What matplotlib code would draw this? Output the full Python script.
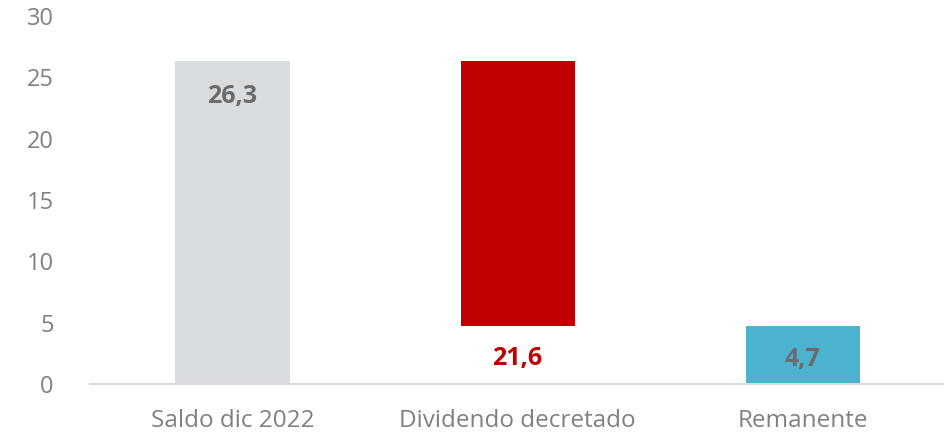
"""Waterfall: saldo, dividendo decretado y remanente."""

import matplotlib
matplotlib.use("Agg")
import matplotlib.pyplot as plt

categories = ["Saldo dic 2022", "Dividendo decretado", "Remanente"]
values = [26.3, 21.6, 4.7]
bottoms = [0, 4.7, 0]
labels = ["26,3", "21,6", "4,7"]
y_ticks = [0, 5, 10, 15, 20, 25, 30]

colors = ["#D9DCDF", "#C00000", "#4BB2D0"]
label_colors = ["#6B6B6B", "#C00000", "#6B6B6B"]

plt.rcParams["font.family"] = ["Open Sans", "DejaVu Sans"]

fig = plt.figure(figsize=(9.45, 4.33), dpi=100)
ax = fig.add_axes([0.0952, 0.113, 0.905, 0.85])

x = range(len(categories))
ax.bar(x, values, bottom=bottoms, width=0.4, color=colors)

# value labels: inside top for first, below for the floating bar, inside for the last
ax.annotate(labels[0], (0, bottoms[0] + values[0]), xytext=(0, -25),
            textcoords="offset points", ha="center", va="center",
            fontsize=18, fontweight="bold", color=label_colors[0])
ax.annotate(labels[1], (1, bottoms[1]), xytext=(0, -23),
            textcoords="offset points", ha="center", va="center",
            fontsize=18, fontweight="bold", color=label_colors[1])
ax.annotate(labels[2], (2, bottoms[2] + values[2] / 2), xytext=(0, -3),
            textcoords="offset points", ha="center", va="center",
            fontsize=18, fontweight="bold", color=label_colors[2])

ax.set_xlim(-0.5, 2.5)
ax.set_ylim(0, 30)
ax.set_yticks(y_ticks)
ax.set_xticks(list(x))
ax.set_xticklabels(categories)
ax.tick_params(axis="both", length=0, labelcolor="#808080")
ax.tick_params(axis="x", labelsize=17.5, pad=18)
ax.tick_params(axis="y", labelsize=17, pad=26)

for side in ("top", "right", "left"):
    ax.spines[side].set_visible(False)
ax.spines["bottom"].set_color("#D9D9D9")
ax.spines["bottom"].set_linewidth(1.5)

fig.savefig("out.png", dpi=100)
